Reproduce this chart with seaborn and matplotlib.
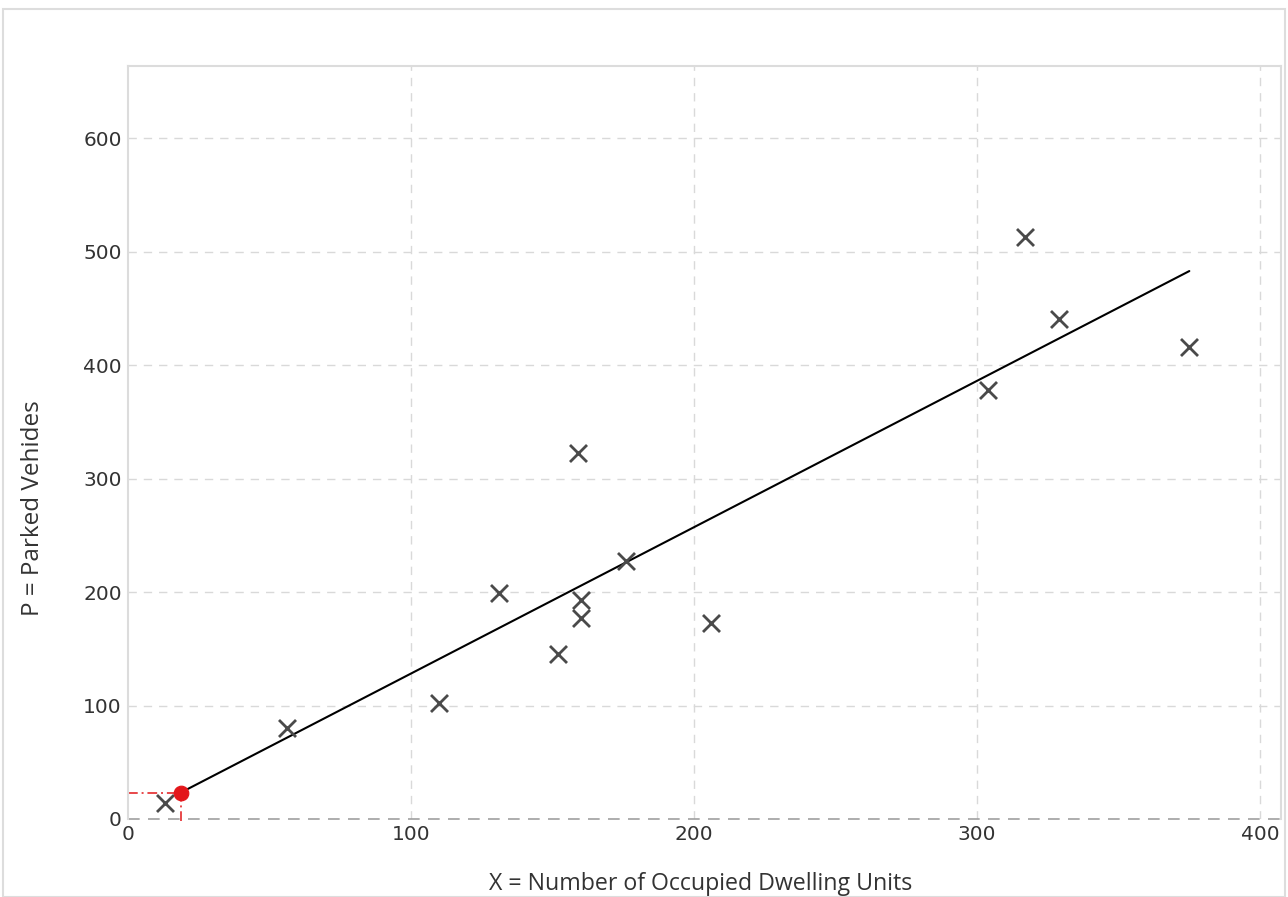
import matplotlib
matplotlib.use("Agg")
import matplotlib.pyplot as plt
import seaborn as sns
import pandas as pd
from matplotlib.patches import Rectangle

# Observed sites: occupied dwelling units vs parked vehicles
dwelling_units = [13, 56, 110, 131, 152, 159, 160, 160, 176, 206, 304, 317, 329, 375]
parked_vehicles = [14, 80, 102, 199, 145, 323, 193, 177, 227, 173, 378, 513, 441, 416]

# Fitted trend line P = a*X + b
fit_slope = 1.29
fit_intercept = -0.8
fit_x_range = [18.5, 375]

# Highlighted estimate
est_x = [18.7]
est_y = [23]

x_ticks = [0, 100, 200, 300, 400]
y_ticks = [0, 100, 200, 300, 400, 500, 600]

sns.set_theme(style="white")
plt.rcParams["font.family"] = ["DejaVu Sans"]

fig = plt.figure(figsize=(12.88, 8.97), dpi=100)
ax = fig.add_axes([0.0994, 0.0870, 0.8954, 0.8398])

df = pd.DataFrame({"X": dwelling_units, "P": parked_vehicles})
fit_df = pd.DataFrame({"X": fit_x_range,
                       "P": [fit_slope * x + fit_intercept for x in fit_x_range]})

ax.set_xlim(0, 407.5)
ax.set_ylim(0, 664)

# grid
for xv in x_ticks[1:]:
    ax.axvline(xv, color="#d9d9d9", lw=1, ls=(0, (6, 5)), zorder=0)
for yv in y_ticks[1:]:
    ax.axhline(yv, color="#d9d9d9", lw=1, ls=(0, (6, 5)), zorder=0)
ax.axhline(0, color="#a0a0a0", lw=1.2, ls=(0, (7, 5)), zorder=1, clip_on=False)

sns.lineplot(data=fit_df, x="X", y="P", color="black", lw=1.5, ax=ax, zorder=3)
sns.scatterplot(data=df, x="X", y="P", marker="x", s=150, color="#4a4a4a",
                linewidth=2, ax=ax, zorder=4)

# guide lines to the estimated point
ax.plot([0, est_x[0]], [est_y[0], est_y[0]], color="#e8474a", lw=1.4,
        ls=(0, (5, 2, 1, 2)), zorder=2)
ax.plot([est_x[0], est_x[0]], [-2, est_y[0]], color="#e8474a", lw=1.4,
        ls=(0, (5, 2, 1, 2)), zorder=2, clip_on=False)
sns.scatterplot(x=est_x, y=est_y, color="#e3161b", s=110, edgecolor="#e3161b",
                ax=ax, zorder=5)

ax.set_xticks(x_ticks)
ax.set_yticks(y_ticks)
ax.tick_params(axis="both", labelsize=14.5, labelcolor="#333333", length=0)
ax.tick_params(axis="y", pad=4.5)
ax.tick_params(axis="x", pad=4.5)

for side in ["top", "right", "left"]:
    ax.spines[side].set_color("#dcdcdc")
    ax.spines[side].set_linewidth(1.5)
ax.spines["bottom"].set_visible(False)

ax.set_xlabel("X = Number of Occupied Dwelling Units", fontsize=16.7,
              color="#333333", family=["Open Sans", "DejaVu Sans"])
ax.set_ylabel("P = Parked Vehides", fontsize=17.5, color="#333333",
              family=["Open Sans", "DejaVu Sans"])
ax.xaxis.set_label_coords(0.4963, -0.086)
ax.xaxis.label.set_va("center")
ax.yaxis.set_label_coords(-0.0824, 0.413)
ax.yaxis.label.set_va("center")

# outer figure border
fig.patches.append(Rectangle((0.002, 0.0), 0.996, 0.990, transform=fig.transFigure,
                             fill=False, edgecolor="#dddddd", lw=1.5))

fig.savefig("out.png", dpi=100, facecolor="white")
